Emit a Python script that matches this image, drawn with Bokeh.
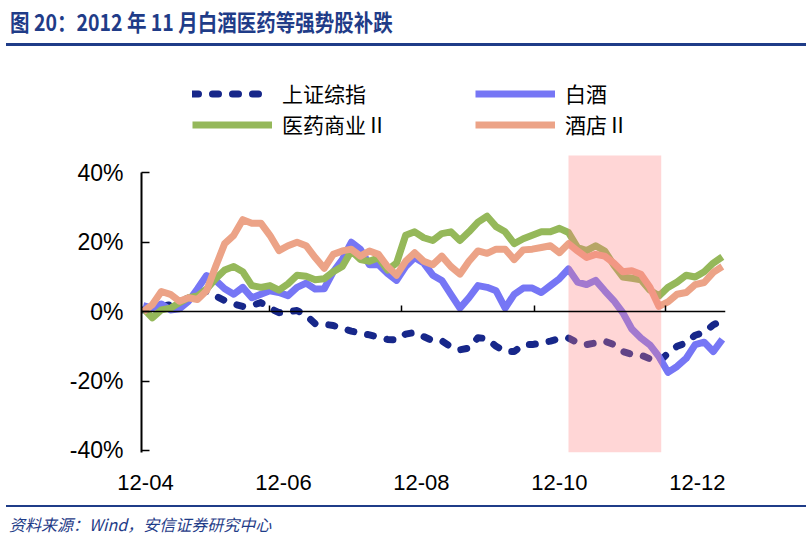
from datetime import datetime
from bokeh.plotting import figure
from bokeh.layouts import column
from bokeh.models import (Range1d, DatetimeAxis, FixedTicker, DatetimeTickFormatter,
                          PrintfTickFormatter, Legend, LegendItem, ColumnDataSource,
                          CustomJSTickFormatter, Div)
from bokeh.embed import file_html
from bokeh.resources import INLINE

# ---------------- data ----------------
dates = ["2012-03-31", "2012-04-04", "2012-04-08", "2012-04-12", "2012-04-16", "2012-04-20",
         "2012-04-24", "2012-04-28", "2012-05-02", "2012-05-06", "2012-05-10", "2012-05-14",
         "2012-05-18", "2012-05-22", "2012-05-26", "2012-05-30", "2012-06-03", "2012-06-07",
         "2012-06-11", "2012-06-15", "2012-06-19", "2012-06-23", "2012-06-27", "2012-07-01",
         "2012-07-05", "2012-07-09", "2012-07-13", "2012-07-17", "2012-07-21", "2012-07-25",
         "2012-07-29", "2012-08-02", "2012-08-06", "2012-08-10", "2012-08-14", "2012-08-18",
         "2012-08-22", "2012-08-26", "2012-08-30", "2012-09-03", "2012-09-07", "2012-09-11",
         "2012-09-15", "2012-09-19", "2012-09-23", "2012-09-27", "2012-10-01", "2012-10-05",
         "2012-10-09", "2012-10-13", "2012-10-17", "2012-10-21", "2012-10-25", "2012-10-29",
         "2012-11-02", "2012-11-06", "2012-11-10", "2012-11-14", "2012-11-18", "2012-11-22",
         "2012-11-26", "2012-11-30", "2012-12-04", "2012-12-08", "2012-12-12"]

# 上证综指 (%)
sse = [0.5, 1, 1.5, 2, 2.5, 4, 5.5, 5.8, 4.5, 3.2, 2.2, 1.5, 1.8, 2.6, 1, -0.3, 0, 0.3,
       -1, -3.5, -3.6, -4, -4.9, -5.6, -6.2, -6.7, -7.4, -8, -8.2, -6.5, -6, -7.2, -8.4,
       -8.4, -10.2, -11, -10.5, -7.5, -7.8, -10, -11.5, -11.5, -9.5, -9.5, -9, -8.5, -7.8,
       -7.6, -9, -9.5, -9, -8.5, -9.5, -11.5, -12.3, -12.5, -13.6, -14.5, -12, -10, -9,
       -6.8, -6, -3.8, -2.6]
# 白酒 (%)
baijiu = [1.7, 1, 2.2, 0.5, 0.8, 3, 6.6, 10.4, 9, 6.6, 5, 7, 4, 5, 6, 5.5, 4.6, 7, 8.2,
          6.5, 6.6, 11.5, 15, 20, 18, 13.5, 13.5, 11, 9, 13, 15.6, 14, 10.5, 9, 5, 1, 4,
          7.5, 7, 6, 1, 5, 6.8, 6.8, 5.5, 7.5, 9.5, 12.3, 8.5, 7.8, 9, 6, 3.2, -0.3, -5,
          -7.6, -9.6, -13, -17.5, -15.8, -13.5, -9.5, -8.8, -11.5, -8]
# 医药商业Ⅱ (%)
yiyao = [1, -1.8, 0.5, 1, 2.6, 4, 4.5, 6.5, 9.5, 12, 13, 11.5, 7.5, 7, 7.5, 6.2, 8, 10.5,
         10.2, 9.2, 9.5, 11.5, 13, 17.5, 15, 14.5, 15.5, 12, 14, 22, 23, 21.3, 20.5, 22.5,
         23, 20.5, 23, 25.8, 27.5, 24.5, 23, 19.6, 21, 22, 23, 23, 24, 22.8, 18.5, 17.6,
         19, 17.5, 13.5, 10, 9.6, 9.2, 6.2, 4.5, 7, 8.5, 10.5, 10, 11.5, 14, 15.8]
# 酒店Ⅱ (%)
jiudian = [0, 2, 5.8, 5, 3, 4, 3.5, 6, 13, 19.6, 22, 26.5, 25.5, 25.5, 22, 17.6, 19, 20,
           19, 15.6, 12.5, 16.5, 17.5, 18, 16, 17.5, 16.5, 13, 10.5, 14.5, 17, 14.5, 13.5,
           16, 13, 10.8, 14.5, 17.5, 16.8, 18, 18, 15, 17.8, 18, 18.5, 19, 17, 19.6, 17.5,
           15.6, 16.5, 16, 14, 11.5, 11.8, 10.8, 7, 1.5, 2.8, 5, 5.5, 7.8, 8.4, 11.3, 13]

series_names = ["上证综指", "白酒", "医药商业Ⅱ", "酒店Ⅱ"]
label_months = ["2012-04-01", "2012-06-01", "2012-08-01", "2012-10-01", "2012-12-01"]
zero_ticks = ["2012-05-26", "2012-07-23", "2012-09-20", "2012-11-17"]
shade_start, shade_end = "2012-10-05", "2012-11-15"
shade_low, shade_high = -40.6, 45
y_ticks = [-40, -20, 0, 20, 40]

title_text = "图 20：2012 年 11 月白酒医药等强势股补跌"
source_text = "资料来源：Wind，安信证券研究中心"

# ---------------- helpers ----------------
EPOCH = datetime(1970, 1, 1)


def d(s):
    return datetime.strptime(s, "%Y-%m-%d")


def ms(s):
    return (d(s) - EPOCH).total_seconds() * 1000.0


NAVY = "#1f3c88"
C_SSE = "#17278a"
C_BJ = "#7676f5"
C_YY = "#95b85a"
C_JD = "#eca387"
LW = 7

src = ColumnDataSource(dict(date=[d(s) for s in dates], sse=sse, baijiu=baijiu,
                            yiyao=yiyao, jiudian=jiudian))

# ---------------- title strip ----------------
top = Div(text=(
    '<div style="position:relative;width:812px;height:50px;">'
    '<div style="position:absolute;left:10px;top:7px;white-space:nowrap;'
    "font-family:'Noto Sans CJK SC';font-weight:bold;font-size:19.5px;line-height:30px;"
    'transform:scaleY(1.18);transform-origin:left center;'
    'color:%s;">%s</div>'
    '<div style="position:absolute;left:6px;top:43px;width:800px;height:3px;'
    'background:%s;"></div></div>') % (NAVY, title_text, NAVY),
    width=812, height=50, margin=0)

# ---------------- main chart ----------------
x0 = datetime(2012, 3, 30, 5, 30)
x1 = datetime(2012, 12, 13, 10, 0)
p = figure(width=812, height=455, x_axis_type="datetime",
           x_range=Range1d(x0, x1), y_range=Range1d(-40.6, 69.5),
           output_backend="svg", toolbar_location=None,
           min_border_left=141, min_border_right=87, min_border_top=20, min_border_bottom=53)
p.grid.visible = False
p.outline_line_color = None
p.background_fill_color = "white"

r_sse = p.line("date", "sse", source=src, line_color=C_SSE, line_width=LW,
               line_dash="6 14", line_cap="round", line_join="round")
r_bj = p.line("date", "baijiu", source=src, line_color=C_BJ, line_width=LW, line_join="round")
r_yy = p.line("date", "yiyao", source=src, line_color=C_YY, line_width=LW, line_join="round")
r_jd = p.line("date", "jiudian", source=src, line_color=C_JD, line_width=LW, line_join="round")

# translucent highlight band drawn over the lines
p.quad(left=[d(shade_start)], right=[d(shade_end)], bottom=[shade_low], top=[shade_high],
       fill_color="#ff7f7f", fill_alpha=0.32, line_color=None)

# bottom date labels (no line, no ticks)
xa = p.xaxis[0]
xa.ticker = FixedTicker(ticks=[ms(s) for s in label_months])
xa.formatter = DatetimeTickFormatter(days="%y-%m", months="%y-%m", years="%y-%m")
xa.axis_line_color = None
xa.major_tick_line_color = None
xa.minor_tick_line_color = None
xa.major_label_standoff = 16
xa.major_label_text_font = "Liberation Sans"
xa.major_label_text_font_size = "22px"
xa.major_label_text_color = "black"

# zero line axis with small upward ticks
za = DatetimeAxis(fixed_location=0, ticker=FixedTicker(ticks=[ms(s) for s in zero_ticks]),
                  formatter=CustomJSTickFormatter(code="return ''"),
                  major_tick_out=6, major_tick_in=0, minor_tick_line_color=None,
                  major_tick_line_width=1.5, axis_line_width=1.5, axis_line_color="black",
                  major_tick_line_color="black", major_label_standoff=0)
p.add_layout(za, "above")

ya = p.yaxis[0]
ya.ticker = FixedTicker(ticks=y_ticks)
ya.formatter = PrintfTickFormatter(format="%d%%")
ya.bounds = (-40.6, 40)
ya.axis_line_width = 2
ya.axis_line_color = "black"
ya.major_tick_in = 8
ya.major_tick_out = 0
ya.major_tick_line_width = 1.5
ya.minor_tick_line_color = None
ya.major_label_standoff = 18
ya.major_label_text_font = "Liberation Sans"
ya.major_label_text_font_size = "23px"
ya.major_label_text_color = "black"

legend = Legend(items=[LegendItem(label=series_names[0], renderers=[r_sse]),
                       LegendItem(label=series_names[2], renderers=[r_yy]),
                       LegendItem(label=series_names[1], renderers=[r_bj]),
                       LegendItem(label=series_names[3], renderers=[r_jd])],
                location=(51, 313), ncols=2, glyph_width=80, glyph_height=23,
                label_height=23, label_width=192, label_standoff=10, spacing=1, padding=0,
                margin=0, border_line_color=None, background_fill_alpha=0,
                label_text_font="Noto Sans CJK SC", label_text_font_size="21px",
                label_text_color="black")
p.add_layout(legend, "center")

# ---------------- source strip ----------------
bot = Div(text=(
    '<div style="position:relative;width:812px;height:43px;">'
    '<div style="position:absolute;left:6px;top:0px;width:800px;height:2px;'
    'background:%s;"></div>'
    '<div style="position:absolute;left:9px;top:7px;white-space:nowrap;'
    "font-family:'Noto Sans CJK SC';font-style:italic;font-size:16px;line-height:24px;"
    'color:%s;">%s</div></div>') % (NAVY, NAVY, source_text),
    width=812, height=43, margin=0)

layout = column(top, p, bot, spacing=0)
open("out.html", "w").write(file_html(layout, INLINE))
